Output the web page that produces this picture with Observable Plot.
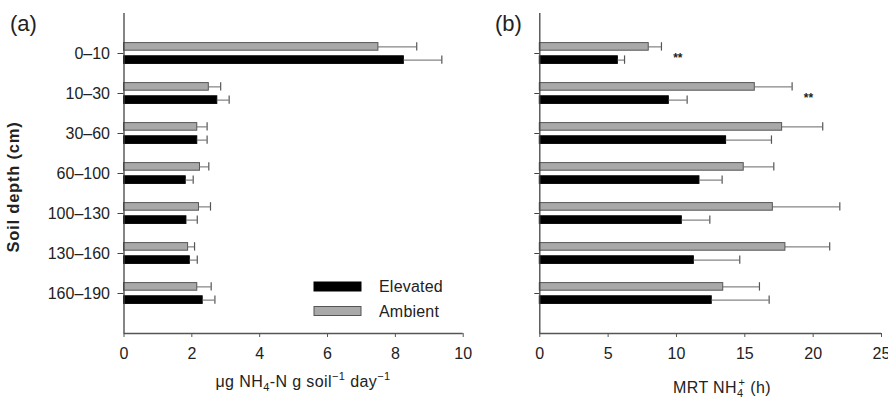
<!DOCTYPE html>
<html>
<head>
<meta charset="utf-8">
<script src="https://cdn.jsdelivr.net/npm/d3@7"></script>
<script src="https://cdn.jsdelivr.net/npm/@observablehq/plot@0.6"></script>
<style>
  html, body { margin: 0; padding: 0; background: #fff; overflow: hidden; }
  #chart { position: relative; width: 888px; height: 400px; font-family: 'Liberation Sans', Arial, sans-serif; }
  #chart svg { position: absolute; top: 0; overflow: visible; }
</style>
</head>
<body>
<div id="chart"></div>
<script>
// ---- data ----
const depths = ["0–10", "10–30", "30–60", "60–100", "100–130", "130–160", "160–190"];

// panel (a): NH4-N production rate (µg NH4-N g soil-1 day-1)
const rateElevated   = [8.25, 2.75, 2.16, 1.82, 1.84, 1.94, 2.32];
const rateElevatedSE = [1.12, 0.35, 0.29, 0.22, 0.32, 0.22, 0.36];
const rateAmbient    = [7.50, 2.50, 2.16, 2.24, 2.21, 1.89, 2.16];
const rateAmbientSE  = [1.13, 0.35, 0.29, 0.26, 0.34, 0.19, 0.41];
const rateTicks = [0, 2, 4, 6, 8, 10];

// panel (b): MRT NH4+ (h)
const mrtElevated   = [5.71, 9.44, 13.63, 11.68, 10.39, 11.27, 12.58];
const mrtElevatedSE = [0.49, 1.34, 3.32, 1.66, 2.05, 3.36, 4.20];
const mrtAmbient    = [7.97, 15.73, 17.73, 14.92, 17.05, 17.97, 13.42];
const mrtAmbientSE  = [0.93, 2.73, 2.97, 2.20, 4.90, 3.24, 2.65];
const mrtTicks = [0, 5, 10, 15, 20, 25];
const mrtSignif = ["**", "**", "", "", "", "", ""];

const seriesNames = ["Elevated", "Ambient"];
const FONT = "'Liberation Sans', Arial, Helvetica, sans-serif";
const H = 400, MT = 13, MB = 67;
const yDomain = [-1, depths.length];

function panel({width, marginLeft, marginRight, xDomain, xTicks, elev, elevSE, amb, ambSE, labels, signif}) {
  const rows = depths.map((d, i) => ({
    i, depth: d,
    elev: elev[i], elevHi: elev[i] + elevSE[i],
    amb: amb[i], ambHi: amb[i] + ambSE[i],
    sig: signif ? signif[i] : ""
  }));
  const marks = [
    // ambient (gray) bars above each tick
    Plot.rect(rows, {x1: () => 0, x2: "amb", y1: d => d.i - 0.26, y2: d => d.i - 0.07,
      fill: "#a9a9a9", stroke: "#555", strokeWidth: 1}),
    // elevated (black) bars below each tick
    Plot.rect(rows, {x1: () => 0, x2: "elev", y1: d => d.i + 0.07, y2: d => d.i + 0.26,
      fill: "#000", stroke: "#000", strokeWidth: 1}),
    // error bars
    Plot.ruleY(rows, {y: d => d.i - 0.165, x1: "amb", x2: "ambHi", stroke: "#666", strokeWidth: 1}),
    Plot.ruleX(rows, {x: "ambHi", y1: d => d.i - 0.27, y2: d => d.i - 0.06, stroke: "#555", strokeWidth: 1.2}),
    Plot.ruleY(rows, {y: d => d.i + 0.165, x1: "elev", x2: "elevHi", stroke: "#666", strokeWidth: 1}),
    Plot.ruleX(rows, {x: "elevHi", y1: d => d.i + 0.06, y2: d => d.i + 0.27, stroke: "#555", strokeWidth: 1.2}),
    // axis lines
    Plot.ruleX([xDomain[0]], {stroke: "#444", strokeWidth: 1.3}),
    Plot.ruleY([yDomain[1]], {stroke: "#555", strokeWidth: 1.3}),
    Plot.axisX({ticks: xTicks, tickSize: 4, tickPadding: 10, label: null, fill: "#222", stroke: "#555"}),
    Plot.axisY({ticks: d3.range(depths.length), tickSize: labels ? 6 : 5, tickPadding: 8,
      tickFormat: labels ? (i => depths[i]) : (() => ""), label: null, fill: "#222", stroke: "#444"})
  ];
  if (signif) {
    marks.push(Plot.text(rows.filter(d => d.sig), {x: d => d.ambHi + 1.2, y: "i", text: "sig",
      dy: 5, fontSize: 12, fontWeight: "bold", fill: "#222"}));
  }
  return Plot.plot({
    width, height: H,
    marginLeft, marginRight, marginTop: MT, marginBottom: MB,
    style: {fontFamily: FONT, fontSize: "16px", color: "#222", background: "transparent"},
    x: {domain: xDomain},
    y: {domain: yDomain, reverse: true},
    marks
  });
}

const chart = document.getElementById("chart");

const svgA = panel({width: 480, marginLeft: 123.5, marginRight: 17.3, xDomain: [0, 10], xTicks: rateTicks,
  elev: rateElevated, elevSE: rateElevatedSE, amb: rateAmbient, ambSE: rateAmbientSE, labels: true});
svgA.style.left = "0px";
chart.appendChild(svgA);

const svgB = panel({width: 408, marginLeft: 59.3, marginRight: 7, xDomain: [0, 25], xTicks: mrtTicks,
  elev: mrtElevated, elevSE: mrtElevatedSE, amb: mrtAmbient, ambSE: mrtAmbientSE, labels: false, signif: mrtSignif});
svgB.style.left = "480px";
chart.appendChild(svgB);

// ---- annotations: panel letters, axis titles, legend ----
const sa = d3.select(svgA), sb = d3.select(svgB);
sa.append("text").attr("x", 10).attr("y", 31).attr("text-anchor", "start").attr("font-size", 22).attr("fill", "#222").text("(a)");
sb.append("text").attr("x", 15).attr("y", 31).attr("text-anchor", "start").attr("font-size", 22).attr("fill", "#222").text("(b)");

sa.append("text").attr("transform", "translate(19,187) rotate(-90)").attr("text-anchor", "middle")
  .attr("font-weight", "bold").attr("font-size", 16.5).attr("letter-spacing", "0.8px").attr("fill", "#222")
  .text("Soil depth (cm)");

// x title (a)
const ta = sa.append("text").attr("x", 303).attr("y", 387).attr("text-anchor", "middle")
  .attr("font-size", 16).attr("letter-spacing", "0.4px").attr("fill", "#222");
ta.append("tspan").text("μg NH");
ta.append("tspan").attr("font-size", 11).attr("dy", 4).text("4");
ta.append("tspan").attr("dy", -4).text("-N g soil");
ta.append("tspan").attr("font-size", 11).attr("dy", -7).text("−1");
ta.append("tspan").attr("dy", 7).text(" day");
ta.append("tspan").attr("font-size", 11).attr("dy", -7).text("−1");

// x title (b)
const tb = sb.append("text").attr("x", 242).attr("y", 393).attr("text-anchor", "middle")
  .attr("font-size", 16).attr("letter-spacing", "0.4px").attr("fill", "#222");
tb.append("tspan").text("MRT NH");
tb.append("tspan").attr("font-size", 11).attr("dy", 4).text("4");
tb.append("tspan").attr("font-size", 11).attr("dy", -11).attr("dx", -5).text("+");
tb.append("tspan").attr("dy", 7).text(" (h)");

// legend
const legendFill = ["#000", "#a9a9a9"];
const legendStroke = ["#000", "#555"];
seriesNames.forEach((name, k) => {
  const cy = 286.5 + k * 24.5;
  sa.append("rect").attr("x", 314).attr("y", cy - 4.5).attr("width", 47).attr("height", 9)
    .attr("fill", legendFill[k]).attr("stroke", legendStroke[k]);
  sa.append("text").attr("x", 379).attr("y", cy).attr("dy", "0.35em").attr("text-anchor", "start")
    .attr("font-size", 16).attr("letter-spacing", "0.2px").attr("fill", "#222").text(name);
});
</script>
</body>
</html>
